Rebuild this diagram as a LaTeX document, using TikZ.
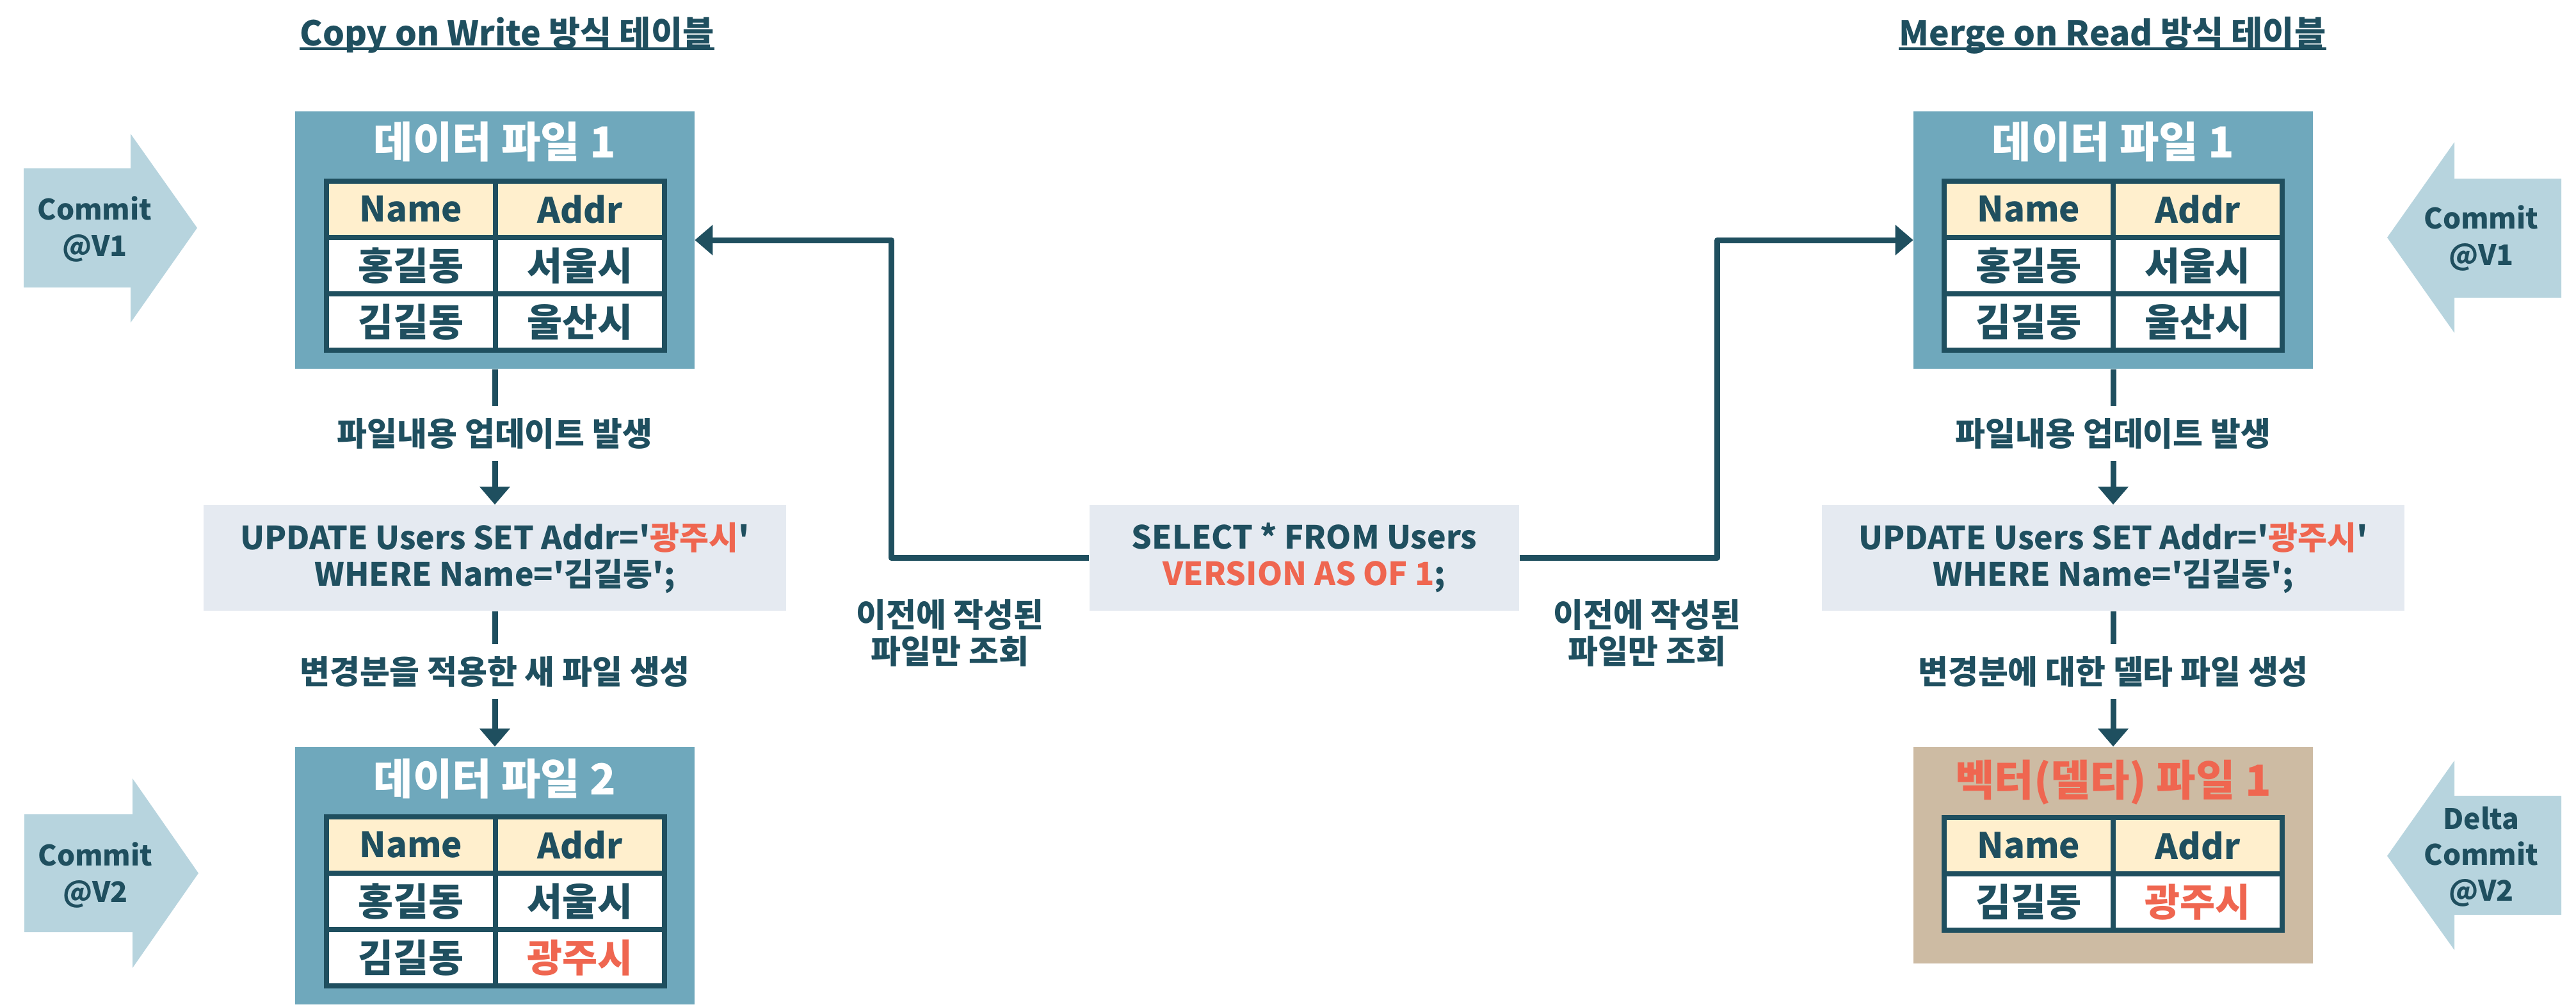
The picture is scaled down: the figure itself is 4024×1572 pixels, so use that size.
\documentclass[tikz,border=0pt]{standalone}
\usepackage{fontspec}
\setmainfont{Noto Sans CJK KR}
\newfontfamily\kr{Noto Sans CJK KR}
\usetikzlibrary{arrows.meta}
\definecolor{dk}{HTML}{1F4F5F}
\definecolor{boxb}{HTML}{6FA8BC}
\definecolor{arrb}{HTML}{B7D4DE}
\definecolor{hdr}{HTML}{FFEFCD}
\definecolor{sal}{HTML}{EF6650}
\definecolor{gry}{HTML}{E5EAF1}
\definecolor{tanb}{HTML}{CDBBA3}
\newcommand\sq{\textquotesingle}
\begin{document}
\begin{tikzpicture}[x=0.01cm,y=-0.01cm,
  filebox/.style={fill=boxb, minimum width=6.23cm, minimum height=4.02cm, inner sep=0pt},
  deltabox/.style={fill=tanb, minimum width=6.23cm, minimum height=3.38cm, inner sep=0pt},
  ftitle/.style={inner sep=0pt, text=white, font=\bfseries\fontsize{19}{21}\selectfont},
  cellh/.style={draw=dk, line width=0.08cm, fill=hdr, minimum width=2.64cm, minimum height=0.88cm, inner sep=0pt, text=dk, font=\bfseries\fontsize{15.5}{18}\selectfont},
  cellb/.style={cellh, fill=white, font=\bfseries\fontsize{17}{19}\selectfont},
  flow/.style={draw=dk, line width=0.09cm, line join=round, -{Triangle[length=0.28cm,width=0.46cm]}},
  plainln/.style={draw=dk, line width=0.09cm},
  sqlbox/.style={fill=gry, text=dk, align=center, inner sep=0pt, font=\bfseries\fontsize{14.2}{16.2}\selectfont},
  lbl/.style={text=dk, align=center, inner sep=0pt, minimum height=0.85cm, font=\bfseries\fontsize{14.5}{16.2}\selectfont},
  ctext/.style={text=dk, align=center, inner sep=0pt, font=\bfseries\fontsize{12.6}{16}\selectfont},
  ttl/.style={text=dk, inner sep=0pt, font=\bfseries\fontsize{15.2}{17}\selectfont},
  ul/.style={draw=dk, line width=0.04cm}
]
\useasboundingbox (0,0) rectangle (4024,1572);

% ---------- titles ----------
\node[ttl, anchor=base] (tL) at (792,71) {Copy on Write 방식 테이블};
\draw[ul] ([yshift=-0.045cm]tL.base west) -- ([yshift=-0.045cm]tL.base east);
\node[ttl, anchor=base] (tR) at (3300,71) {Merge on Read 방식 테이블};
\draw[ul] ([yshift=-0.045cm]tR.base west) -- ([yshift=-0.045cm]tR.base east);

% ---------- commit arrows ----------
\fill[arrb] (37,263) -- (204,263) -- (204,209) -- (308,356) -- (204,504) -- (204,449) -- (37,449) -- cycle;
\node[ctext] (cmL1) at (148,358) {Commit\\@V1};
\fill[arrb] (38,1272) -- (207,1272) -- (207,1216) -- (310,1364) -- (207,1512) -- (207,1456) -- (38,1456) -- cycle;
\node[ctext] (cmL2) at (149,1367) {Commit\\@V2};
\fill[arrb] (4001,279) -- (3834,279) -- (3834,222) -- (3729,371) -- (3834,520) -- (3834,465) -- (4001,465) -- cycle;
\node[ctext] (cmR1) at (3876,372) {Commit\\@V1};
\fill[arrb] (4001,1243) -- (3834,1243) -- (3834,1188) -- (3729,1337) -- (3834,1484) -- (3834,1429) -- (4001,1429) -- cycle;
\node[ctext] (cmR2) at (3876,1338) {Delta\\Commit\\@V2};

% ---------- left: data file 1 ----------
\node[filebox] (fL1) at (773,375) {};
\node[ftitle] (fL1t) at (773,222) {데이터 파일 1};
\node[cellh] (l1a) at (642,327) {Name};
\node[cellh] (l1b) at (906,327) {Addr};
\node[cellb] (l1c) at (642,415) {홍길동};
\node[cellb] (l1d) at (906,415) {서울시};
\node[cellb] (l1e) at (642,503) {김길동};
\node[cellb] (l1f) at (906,503) {울산시};

% ---------- left: update ----------
\node[lbl] (labL1) at (773,677) {파일내용 업데이트 발생};
\node[sqlbox, minimum width=9.1cm, minimum height=1.65cm] (updL) at (773,871.5)
  {UPDATE Users SET Addr=\sq\textcolor{sal}{광주시}\sq\\WHERE Name=\sq 김길동\sq;};
\node[lbl] (labL2) at (773,1049) {변경분을 적용한 새 파일 생성};

% ---------- left: data file 2 ----------
\node[filebox] (fL2) at (773,1368) {};
\node[ftitle] (fL2t) at (773,1216) {데이터 파일 2};
\node[cellh] (l2a) at (642,1320) {Name};
\node[cellh] (l2b) at (906,1320) {Addr};
\node[cellb] (l2c) at (642,1408) {홍길동};
\node[cellb] (l2d) at (906,1408) {서울시};
\node[cellb] (l2e) at (642,1496) {김길동};
\node[cellb, text=sal] (l2f) at (906,1496) {광주시};

\draw[plainln] (fL1.south) -- (labL1.north);
\draw[flow] (labL1.south) -- (updL.north);
\draw[plainln] (updL.south) -- (labL2.north);
\draw[flow] (labL2.south) -- (fL2.north);

% ---------- right: data file 1 ----------
\node[filebox] (fR1) at (3301,375) {};
\node[ftitle] (fR1t) at (3301,222) {데이터 파일 1};
\node[cellh] (r1a) at (3169,327) {Name};
\node[cellh] (r1b) at (3433,327) {Addr};
\node[cellb] (r1c) at (3169,415) {홍길동};
\node[cellb] (r1d) at (3433,415) {서울시};
\node[cellb] (r1e) at (3169,503) {김길동};
\node[cellb] (r1f) at (3433,503) {울산시};

\node[lbl] (labR1) at (3301,677) {파일내용 업데이트 발생};
\node[sqlbox, minimum width=9.1cm, minimum height=1.65cm] (updR) at (3301,871.5)
  {UPDATE Users SET Addr=\sq\textcolor{sal}{광주시}\sq\\WHERE Name=\sq 김길동\sq;};
\node[lbl] (labR2) at (3301,1049) {변경분에 대한 델타 파일 생성};

% ---------- right: delta file ----------
\node[deltabox] (dR) at (3301,1336) {};
\node[ftitle, text=sal] (dRt) at (3301,1222) {벡터(델타) 파일 1};
\node[cellh] (d1a) at (3169,1321) {Name};
\node[cellh] (d1b) at (3433,1321) {Addr};
\node[cellb] (d1c) at (3169,1409) {김길동};
\node[cellb, text=sal] (d1d) at (3433,1409) {광주시};

\draw[plainln] (fR1.south) -- (labR1.north);
\draw[flow] (labR1.south) -- (updR.north);
\draw[plainln] (updR.south) -- (labR2.north);
\draw[flow] (labR2.south) -- (dR.north);

% ---------- middle: select ----------
\node[sqlbox, minimum width=6.71cm, minimum height=1.65cm] (sel) at (2037.5,871.5)
  {SELECT * FROM Users\\\textcolor{sal}{VERSION AS OF 1};};
\draw[flow] (sel.west) -- ++(-309,0) |- (fL1.east);
\draw[flow] (sel.east) -- ++(309,0) |- (fR1.west);
\node[lbl, minimum height=0pt] (qL) at (1484,989) {이전에 작성된\\파일만 조회};
\node[lbl, minimum height=0pt] (qR) at (2573,989) {이전에 작성된\\파일만 조회};
\end{tikzpicture}
\end{document}
